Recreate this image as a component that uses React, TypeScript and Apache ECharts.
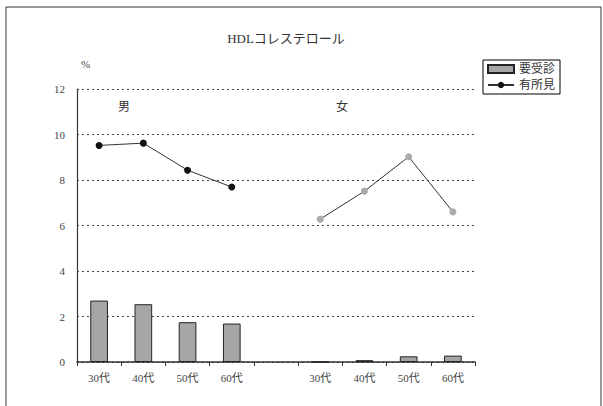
import React, { useEffect, useRef } from "react";
import * as echarts from "echarts";

const categories = ["30代", "40代", "50代", "60代", "", "30代", "40代", "50代", "60代"];
const barValues = [2.7, 2.54, 1.75, 1.69, null, 0, 0.08, 0.25, 0.28];
const maleLine = [9.52, 9.62, 8.43, 7.69, null, null, null, null, null];
const femaleLine = [null, null, null, null, null, 6.28, 7.51, 9.02, 6.6];
const yTicks = { min: 0, max: 12, interval: 2 };

const FONT = "'Liberation Serif', 'DejaVu Serif', 'Noto Sans CJK JP', serif";

export default function App() {
  const ref = useRef<HTMLDivElement>(null);
  useEffect(() => {
    document.body.style.margin = "0";
    const chart = echarts.init(ref.current!, null, { renderer: "svg" });
    chart.setOption({
      animation: false,
      backgroundColor: "#fff",
      textStyle: { fontFamily: FONT },
      title: {
        text: "HDLコレステロール",
        left: 281,
        top: 27,
        textAlign: "center",
        textStyle: { fontFamily: FONT, fontSize: 13, fontWeight: "normal", color: "#333" },
      },
      legend: {
        data: [
          { name: "要受診", icon: "rect" },
          { name: "有所見" },
        ],
        orient: "vertical",
        left: 483,
        top: 60,
        padding: [3, 5, 3, 4],
        itemGap: 4,
        itemWidth: 26,
        itemHeight: 8,
        borderColor: "#000",
        borderWidth: 1,
        backgroundColor: "#fff",
        textStyle: { fontFamily: FONT, fontSize: 12, color: "#333" },
      },
      grid: { left: 77, right: 128, top: 89, bottom: 44 },
      xAxis: {
        type: "category",
        data: categories,
        boundaryGap: true,
        axisLine: { lineStyle: { color: "#333", width: 1.5 } },
        axisTick: { show: true, length: 4, inside: false, lineStyle: { color: "#333" } },
        axisLabel: { fontFamily: FONT, fontSize: 11, color: "#444", margin: 10 },
      },
      yAxis: {
        type: "value",
        min: yTicks.min,
        max: yTicks.max,
        interval: yTicks.interval,
        name: "%",
        nameLocation: "end",
        nameGap: 20,
        nameTextStyle: { fontFamily: FONT, fontSize: 11, color: "#444", align: "left", padding: [0, 0, 0, 4] },
        axisLine: { show: true, lineStyle: { color: "#333", width: 1.2 } },
        axisTick: { show: false },
        axisLabel: { fontFamily: FONT, fontSize: 11, color: "#444", margin: 12 },
        splitLine: { show: true, lineStyle: { color: "#444", type: [2, 3], width: 1 } },
      },
      series: [
        {
          name: "要受診",
          type: "bar",
          data: barValues,
          barWidth: "40%",
          itemStyle: { color: "#a6a6a6", borderColor: "#222", borderWidth: 1 },
        },
        {
          name: "有所見",
          type: "line",
          data: maleLine,
          symbol: "circle",
          symbolSize: 7,
          lineStyle: { color: "#333", width: 1 },
          itemStyle: { color: "#111" },
        },
        {
          name: "有所見(女)",
          type: "line",
          data: femaleLine,
          symbol: "circle",
          symbolSize: 7,
          lineStyle: { color: "#333", width: 1 },
          itemStyle: { color: "#aaa" },
        },
      ],
      graphic: [
        {
          type: "rect",
          shape: { x: 6, y: 7, width: 595, height: 420 },
          style: { fill: "none", stroke: "#333", lineWidth: 1 },
          silent: true,
        },
        {
          type: "text",
          x: 118,
          y: 101,
          style: { text: "男", font: `12px ${FONT}`, fill: "#333" },
        },
        {
          type: "text",
          x: 336,
          y: 101,
          style: { text: "女", font: `12px ${FONT}`, fill: "#333" },
        },
      ],
    });
    return () => chart.dispose();
  }, []);
  return <div ref={ref} style={{ width: 603, height: 406 }} />;
}
